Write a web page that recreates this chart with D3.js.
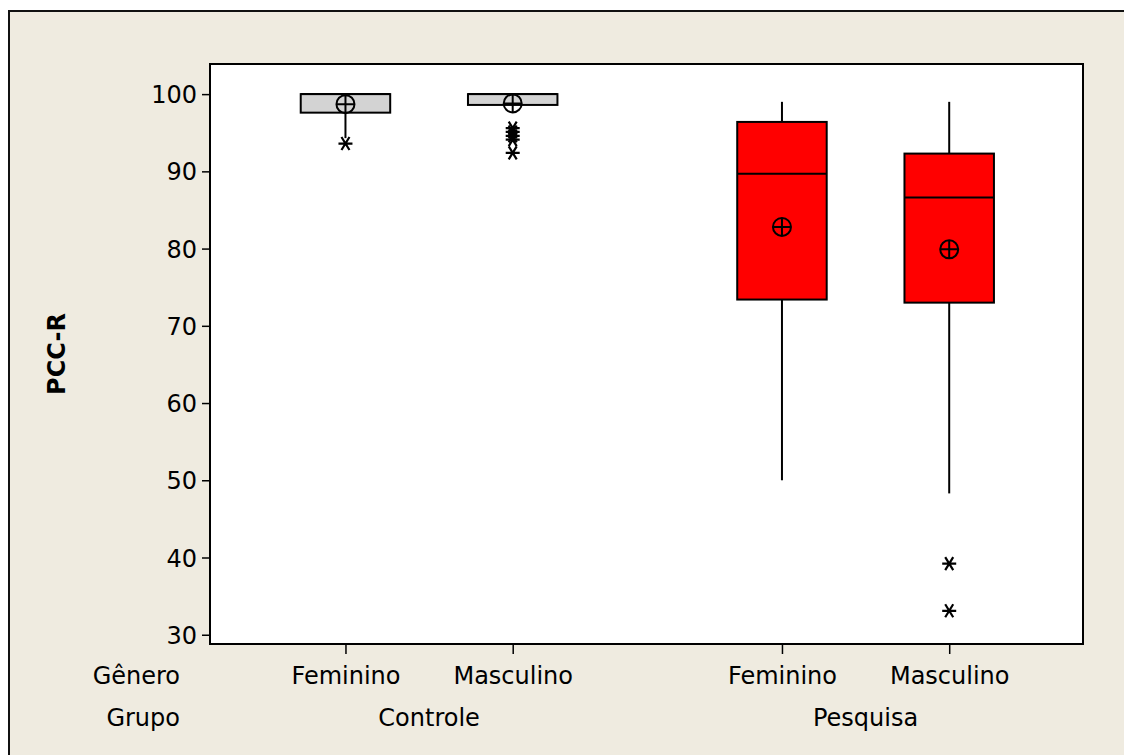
<!DOCTYPE html>
<html>
<head>
<meta charset="utf-8">
<script src="https://cdn.jsdelivr.net/npm/d3@7"></script>
<style>
  html, body { margin: 0; padding: 0; background: #fff; overflow: hidden; }
  svg { display: block; }
  svg text { font-family: "DejaVu Sans", sans-serif; fill: #000; }
</style>
</head>
<body>
<svg id="chart" width="1124" height="755"></svg>
<script>
// Box plot of PCC-R by group and gender

const groups = ['Controle', 'Pesquisa'];
const genders = ['Feminino', 'Masculino'];
const yTicks = [30, 40, 50, 60, 70, 80, 90, 100];

// one entry per box, in order Controle/Fem, Controle/Masc, Pesquisa/Fem, Pesquisa/Masc
const q1 = [97.6, 98.6, 73.4, 73.0];
const medians = [100, 100, 89.7, 86.6];
const q3 = [100, 100, 96.4, 92.3];
const whiskerLow = [94.3, 98.6, 50.0, 48.3];
const whiskerHigh = [100, 100, 99.0, 99.0];
const means = [98.7, 98.8, 82.8, 79.9];
const outliers = [[93.6], [95.6, 95.1, 94.6, 94.1, 92.4], [], [39.2, 33.1]];

const plot = { left: 210, right: 1083, top: 64, bottom: 644 };
const groupGap = 0.61;
const boxWidthUnits = 0.535;

const svg = d3.select('#chart');

// outer panel: beige fill, dark border only on left and top
svg.append('rect')
  .attr('x', 9).attr('y', 11)
  .attr('width', 1115).attr('height', 744)
  .attr('fill', '#efebe0');
svg.append('path')
  .attr('d', 'M9,755V11H1124')
  .attr('fill', 'none')
  .attr('stroke', '#111')
  .attr('stroke-width', 2);

const boxes = [];
groups.forEach((g, gi) => {
  genders.forEach((s, si) => {
    const i = gi * genders.length + si;
    boxes.push({
      group: g, gender: s, gi,
      pos: 1 + gi * (genders.length + groupGap) + si,
      q1: q1[i], median: medians[i], q3: q3[i],
      lo: whiskerLow[i], hi: whiskerHigh[i],
      mean: means[i], outliers: outliers[i]
    });
  });
});

const x = d3.scaleLinear()
  .domain([0.19, 5.41])
  .range([plot.left, plot.right]);
const y = d3.scaleLinear()
  .domain([28.8, 103.9])
  .range([plot.bottom, plot.top]);

// plot area
svg.append('rect')
  .attr('x', plot.left).attr('y', plot.top)
  .attr('width', plot.right - plot.left).attr('height', plot.bottom - plot.top)
  .attr('fill', '#fff');

// y axis
const yAxis = svg.append('g')
  .attr('transform', `translate(${plot.left},0)`)
  .call(d3.axisLeft(y).tickValues(yTicks).tickSize(8).tickPadding(5));
yAxis.select('.domain').remove();
yAxis.selectAll('.tick line').attr('stroke', '#000').attr('stroke-width', 1.5);
yAxis.selectAll('.tick text')
  .style('font-size', '24px')
  .attr('dy', '0.36em');

// x axis
const xAxis = svg.append('g')
  .attr('transform', `translate(0,${plot.bottom})`)
  .call(d3.axisBottom(x)
    .tickValues(boxes.map(d => d.pos))
    .tickFormat((d, i) => boxes[i].gender)
    .tickSize(10).tickPadding(8));
xAxis.select('.domain').remove();
xAxis.selectAll('.tick line').attr('stroke', '#000').attr('stroke-width', 1.5);
xAxis.selectAll('.tick text')
  .style('font-size', '24px')
  .attr('y', 40)
  .attr('dy', 0);

// group labels under gender labels
groups.forEach((g, gi) => {
  const members = boxes.filter(d => d.gi === gi);
  const cx = d3.mean(members, d => x(d.pos));
  svg.append('text')
    .attr('x', cx).attr('y', 726)
    .attr('text-anchor', 'middle')
    .style('font-size', '24px')
    .text(g);
});

svg.append('text')
  .attr('x', 180).attr('y', 684)
  .attr('text-anchor', 'end')
  .style('font-size', '24px')
  .text('Gênero');
svg.append('text')
  .attr('x', 180).attr('y', 726)
  .attr('text-anchor', 'end')
  .style('font-size', '24px')
  .text('Grupo');

// y label
svg.append('text')
  .attr('transform', `translate(65,${(plot.top + plot.bottom) / 2}) rotate(-90)`)
  .attr('text-anchor', 'middle')
  .style('font-size', '24px')
  .style('font-weight', 'bold')
  .text('PCC-R');

// boxes
const bw = x(boxWidthUnits) - x(0);
const b = svg.append('g').selectAll('.box')
  .data(boxes)
  .join('g')
  .attr('class', 'box')
  .attr('transform', d => `translate(${x(d.pos)},0)`);

b.append('line')
  .attr('x1', 0).attr('x2', 0)
  .attr('y1', d => y(d.hi)).attr('y2', d => y(d.q3))
  .attr('stroke', '#000').attr('stroke-width', 2);
b.append('line')
  .attr('x1', 0).attr('x2', 0)
  .attr('y1', d => y(d.q1)).attr('y2', d => y(d.lo))
  .attr('stroke', '#000').attr('stroke-width', 2);

b.append('rect')
  .attr('x', -bw / 2)
  .attr('width', bw)
  .attr('y', d => y(d.q3))
  .attr('height', d => y(d.q1) - y(d.q3))
  .attr('fill', d => d.gi === 0 ? '#d3d3d3' : '#ff0000')
  .attr('stroke', '#000')
  .attr('stroke-width', 2);

b.append('line')
  .attr('x1', -bw / 2).attr('x2', bw / 2)
  .attr('y1', d => y(d.median)).attr('y2', d => y(d.median))
  .attr('stroke', '#000').attr('stroke-width', 2);

// mean symbol: circle with cross
const r = 9;
const m = b.append('g')
  .attr('transform', d => `translate(0,${y(d.mean)})`)
  .attr('stroke', '#000').attr('stroke-width', 2).attr('fill', 'none');
m.append('circle').attr('r', r);
m.append('path').attr('d', `M${-r},0H${r}M0,${-r}V${r}`);

// outliers: asterisks
const star = 'M-7,0H7M-4,-6.5L4,6.5M4,-6.5L-4,6.5';
b.selectAll('.out')
  .data(d => d.outliers)
  .join('path')
  .attr('class', 'out')
  .attr('transform', v => `translate(0,${y(v)})`)
  .attr('d', star)
  .attr('stroke', '#000')
  .attr('stroke-width', 2.2)
  .attr('fill', 'none');

// plot border
svg.append('rect')
  .attr('x', plot.left).attr('y', plot.top)
  .attr('width', plot.right - plot.left).attr('height', plot.bottom - plot.top)
  .attr('fill', 'none')
  .attr('stroke', '#000')
  .attr('stroke-width', 2);
</script>
</body>
</html>
